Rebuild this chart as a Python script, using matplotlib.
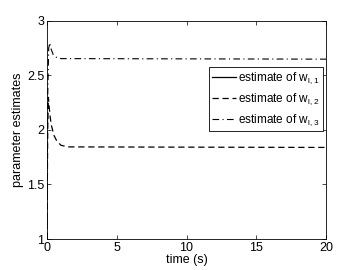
import matplotlib
matplotlib.use("Agg")
import matplotlib.pyplot as plt

plt.rcParams.update({
    "font.family": ["Liberation Sans", "DejaVu Sans"],
    "font.size": 9,
    "mathtext.default": "regular",
})

t_w1 = [0.0, 20.0]
w1 = [0.3, 0.3]  # solid curve lies outside the visible range
t_w2 = [0.0, 0.05, 0.1, 0.2, 0.3, 0.5, 0.7, 1.0, 1.5, 20.0]
w2 = [1.0, 2.0, 2.3, 2.15, 2.05, 1.95, 1.9, 1.86, 1.845, 1.84]
t_w3 = [0.0, 0.05, 0.12, 0.2, 0.3, 0.45, 0.7, 1.0, 20.0]
w3 = [1.0, 2.3, 2.75, 2.8, 2.74, 2.69, 2.665, 2.655, 2.65]

labels = [r"estimate of w$_{l,1}$", r"estimate of w$_{l,2}$", r"estimate of w$_{l,3}$"]

fig = plt.figure(figsize=(3.6, 2.7), dpi=100)
ax = fig.add_axes([47 / 360, 1 - 239 / 270, 279 / 360, 218 / 270])
ax.plot(t_w1, w1, "k-", lw=0.9, label=labels[0])
ax.plot(t_w2, w2, color="k", ls=(0, (5, 3)), lw=0.9, label=labels[1])
ax.plot(t_w3, w3, color="k", ls=(0, (6, 3, 1, 3)), lw=0.8, label=labels[2])

ax.set_xlim(0, 20)
ax.set_ylim(1, 3)
ax.set_xticks([0, 5, 10, 15, 20])
ax.set_yticks([1, 1.5, 2, 2.5, 3])
ax.set_yticklabels(["1", "1.5", "2", "2.5", "3"])
ax.tick_params(direction="in", top=True, right=True, length=3, width=0.5, pad=2)
for s in ax.spines.values():
    s.set_linewidth(0.6)
ax.set_xlabel("time (s)", labelpad=0)
ax.set_ylabel("parameter estimates", labelpad=2)

leg = ax.legend(loc="upper right", bbox_to_anchor=(0.99, 0.79), fancybox=False,
                edgecolor="k", framealpha=1, handlelength=2.0, borderpad=0.3,
                labelspacing=0.45, handletextpad=0.2, borderaxespad=0, fontsize=8.5)
leg.get_frame().set_linewidth(0.6)

fig.savefig("out.png", dpi=100)
